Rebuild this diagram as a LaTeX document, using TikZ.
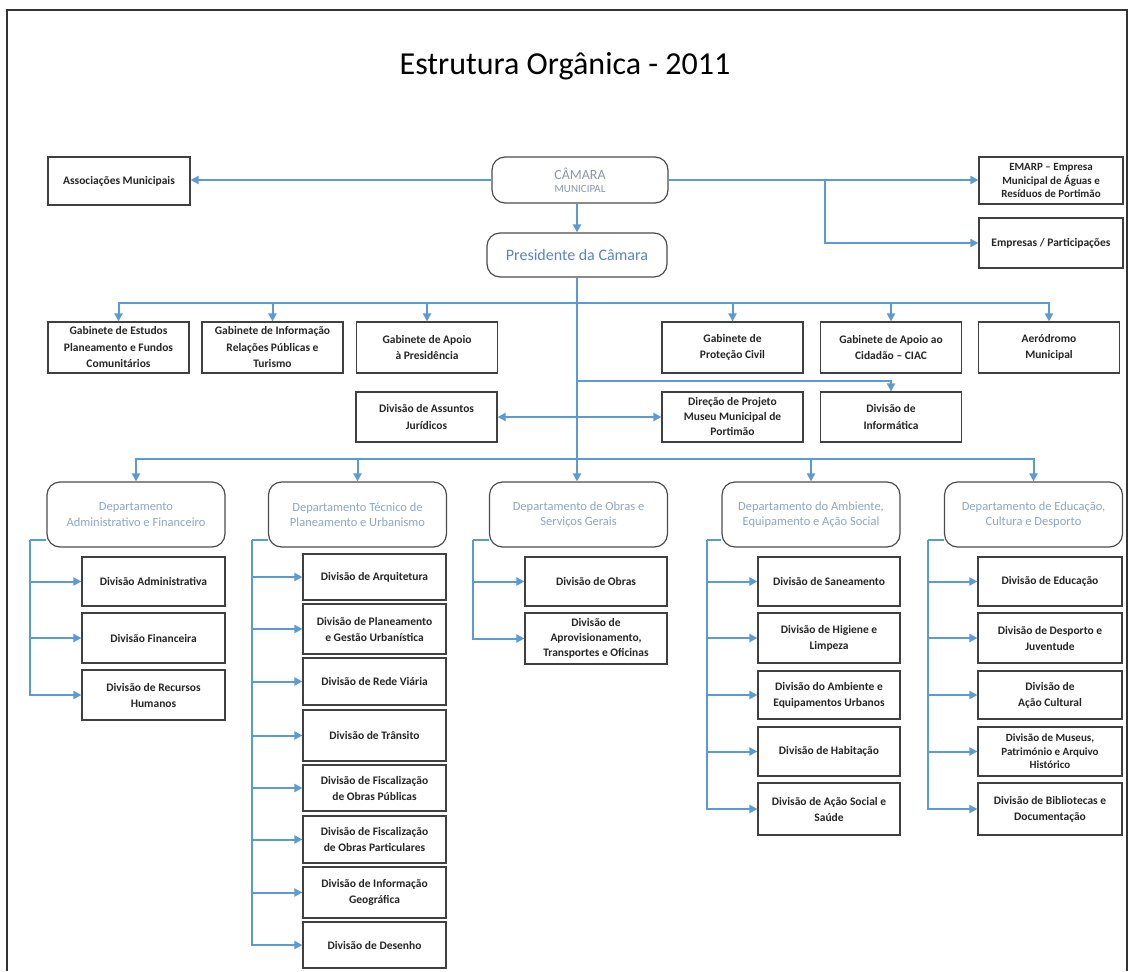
\documentclass[tikz,border=0pt]{standalone}
\usepackage{fontspec}
\setmainfont{Carlito}
\usepackage{tikz}
\usetikzlibrary{arrows.meta,positioning}
\definecolor{linkblue}{HTML}{5B9BD5}
\definecolor{depttext}{HTML}{8EA6C4}
\definecolor{prestext}{HTML}{5A86C0}
\definecolor{camtext}{HTML}{8A98AC}

\begin{document}
\begin{tikzpicture}
[x=1pt, y=-1pt,
unit/.style={rectangle, draw=black!75, line width=1.2pt, fill=white, align=center, inner sep=1pt, font=\fontsize{11.5}{16}\selectfont\bfseries, text=black!85},
head/.style={rectangle, rounded corners=13pt, draw=black!70, line width=1.2pt, fill=white, align=center, inner sep=1pt, font=\fontsize{12.5}{15.5}\selectfont, text=depttext, minimum width=178pt, minimum height=65pt},
gab/.style={unit, minimum width=141pt, minimum height=51pt, font=\fontsize{11.5}{16.5}\selectfont\bfseries},
div/.style={unit, minimum width=143pt},
link/.style={draw=linkblue, line width=2pt},
arr/.style={link, -{Triangle[length=8pt,width=8pt]}},
hv/.style={to path={-| (\tikztotarget)}},
vh/.style={to path={|- (\tikztotarget)}}
]
\useasboundingbox (0,0) rectangle (1131,971);
%Frame
\draw[black!80, line width=1.3pt] (7,971) -- (7,10) -- (1127,10) -- (1127,971);
\node[font=\fontsize{32}{36}\selectfont] (title) at (565,66) {Estrutura Orgânica - 2011};

%Nodes
\node[unit, minimum width=142pt, minimum height=48pt] (assoc) at (119,181) {Associações Municipais};
\node[head, minimum width=176pt, minimum height=46pt, text=camtext, font=\fontsize{14}{14}\selectfont] (camara) at (580,180) {CÂMARA\\[-1pt]{\fontsize{11}{11}\selectfont MUNICIPAL}};
\node[head, minimum width=180pt, minimum height=44pt, text=prestext, font=\fontsize{16}{18}\selectfont] (pres) at (577,255) {Presidente da Câmara};
\node[unit, minimum width=144pt, minimum height=47pt, font=\fontsize{11}{13.5}\selectfont\bfseries] (emarp) at (1051,180.5) {EMARP – Empresa\\Municipal de Águas e\\Resíduos de Portimão};
\node[unit, minimum width=144pt, minimum height=50pt] (empresas) at (1051,243) {Empresas / Participações};

\node[gab] (gestudos) at (118.5,347.5) {Gabinete de Estudos\\Planeamento e Fundos\\Comunitários};
\node[gab] (ginfo)    at (272.5,347.5) {Gabinete de Informação\\Relações Públicas e\\Turismo};
\node[gab] (gapoio)   at (427,347.5)   {Gabinete de Apoio\\à Presidência};
\node[gab] (gprot)    at (732.5,347.5) {Gabinete de\\Proteção Civil};
\node[gab] (gcid)     at (891,347.5)   {Gabinete de Apoio ao\\Cidadão – CIAC};
\node[gab] (aero)     at (1049,347.5)  {Aeródromo\\Municipal};

\node[gab, minimum height=50pt] (jur)    at (426.5,417) {Divisão de Assuntos\\Jurídicos};
\node[gab, minimum height=50pt, font=\fontsize{11.5}{15}\selectfont\bfseries] (museu)  at (732.5,417) {Direção de Projeto\\Museu Municipal de\\Portimão};
\node[gab, minimum height=50pt] (inform) at (891,417)   {Divisão de\\Informática};

\node[head] (dadm)   at (136,514.5)   {Departamento\\Administrativo e Financeiro};
\node[head] (durb)   at (357.5,514.5) {Departamento Técnico de\\Planeamento e Urbanismo};
\node[head] (dobras) at (578.5,514.5) {Departamento de Obras e\\Serviços Gerais};
\node[head] (damb)   at (811,514.5)   {Departamento do Ambiente,\\Equipamento e Ação Social};
\node[head] (dedu)   at (1033.5,514.5) {Departamento de Educação,\\Cultura e Desporto};

\node[div, minimum height=49pt] (dvadm) at (153.5,581.5) {Divisão Administrativa};
\node[div, minimum height=50pt] (dvfin) at (153.5,638)   {Divisão Financeira};
\node[div, minimum height=50pt] (dvrh)  at (153.5,695)   {Divisão de Recursos\\Humanos};

\node[div, minimum height=46pt] (dvarq)  at (374.5,577)   {Divisão de Arquitetura};
\node[div, minimum height=50pt] (dvplan) at (374.5,629)   {Divisão de Planeamento\\e Gestão Urbanística};
\node[div, minimum height=47pt] (dvrede) at (374.5,681.5) {Divisão de Rede Viária};
\node[div, minimum height=51pt] (dvtran) at (374.5,735.5) {Divisão de Trânsito};
\node[div, minimum height=46pt] (dvfpub) at (374.5,788)   {Divisão de Fiscalização\\de Obras Públicas};
\node[div, minimum height=47pt] (dvfpar) at (374.5,839.5) {Divisão de Fiscalização\\de Obras Particulares};
\node[div, minimum height=51pt] (dvgeo)  at (374.5,892.5) {Divisão de Informação\\Geográfica};
\node[div, minimum height=46pt] (dvdes)  at (374.5,945)   {Divisão de Desenho};

\node[div, minimum width=142pt, minimum height=49pt] (dvobr)   at (596,581.5) {Divisão de Obras};
\node[div, minimum width=142pt, minimum height=51pt, font=\fontsize{11.5}{15}\selectfont\bfseries] (dvaprov) at (596,638.5) {Divisão de\\Aprovisionamento,\\Transportes e Oficinas};

\node[div, minimum width=142pt, minimum height=49pt] (dvsan) at (829,581.5) {Divisão de Saneamento};
\node[div, minimum width=142pt, minimum height=50pt] (dvhig) at (829,638)   {Divisão de Higiene e\\Limpeza};
\node[div, minimum width=142pt, minimum height=48pt] (dvamb) at (829,695)   {Divisão do Ambiente e\\Equipamentos Urbanos};
\node[div, minimum width=142pt, minimum height=49pt] (dvhab) at (829,751.5) {Divisão de Habitação};
\node[div, minimum width=142pt, minimum height=52pt] (dvsoc) at (829,809)   {Divisão de Ação Social e\\Saúde};

\node[div, minimum width=144pt, minimum height=49pt] (dvedu)  at (1050,581.5) {Divisão de Educação};
\node[div, minimum width=144pt, minimum height=50pt] (dvdesp) at (1050,638)   {Divisão de Desporto e\\Juventude};
\node[div, minimum width=144pt, minimum height=48pt] (dvcult) at (1050,695)   {Divisão de\\Ação Cultural};
\node[div, minimum width=144pt, minimum height=49pt, font=\fontsize{11}{13.5}\selectfont\bfseries] (dvmus) at (1050,751.5) {Divisão de Museus,\\Património e Arquivo\\Histórico};
\node[div, minimum width=144pt, minimum height=52pt] (dvbib)  at (1050,809)   {Divisão de Bibliotecas e\\Documentação};

\coordinate (gbus) at (577,303);
\coordinate (ibus) at (577,381);
\coordinate (jbus) at (577,417);
\coordinate (dbus) at (577,459);
\coordinate (ebr)  at (825,180);
\coordinate (sadm) at (30,540);
\coordinate (surb) at (252,540);
\coordinate (sobr) at (473,540);
\coordinate (samb) at (707,540);
\coordinate (sedu) at (928,540);

%Lines
\draw[link] (pres.south) -- (dbus);
\draw[link] (dadm.west |- sadm) -- (sadm);
\draw[link] (durb.west |- surb) -- (surb);
\draw[link] (dobras.west |- sobr) -- (sobr);
\draw[link] (damb.west |- samb) -- (samb);
\draw[link] (dedu.west |- sedu) -- (sedu);
\path[every edge/.style=arr]
(pres.north |- camara.south) edge (pres.north)
(camara.west) edge (camara.west -| assoc.east)
(camara.east) edge (camara.east -| emarp.west)
(ebr) edge[vh] (empresas.west)
(gbus) edge[hv] (gestudos.north)
(gbus) edge[hv] (ginfo.north)
(gbus) edge[hv] (gapoio.north)
(gbus) edge[hv] (gprot.north)
(gbus) edge[hv] (gcid.north)
(gbus) edge[hv] (aero.north)
(ibus) edge[hv] (inform.north)
(jbus) edge (jur.east)
(jbus) edge (museu.west)
(dbus) edge[hv] (dadm.north)
(dbus) edge[hv] (durb.north)
(dbus) edge (dbus |- dobras.north)
(dbus) edge[hv] (damb.north)
(dbus) edge[hv] (dedu.north)
(sadm) edge[vh] (dvadm.west)
(sadm) edge[vh] (dvfin.west)
(sadm) edge[vh] (dvrh.west)
(surb) edge[vh] (dvarq.west)
(surb) edge[vh] (dvplan.west)
(surb) edge[vh] (dvrede.west)
(surb) edge[vh] (dvtran.west)
(surb) edge[vh] (dvfpub.west)
(surb) edge[vh] (dvfpar.west)
(surb) edge[vh] (dvgeo.west)
(surb) edge[vh] (dvdes.west)
(sobr) edge[vh] (dvobr.west)
(sobr) edge[vh] (dvaprov.west)
(samb) edge[vh] (dvsan.west)
(samb) edge[vh] (dvhig.west)
(samb) edge[vh] (dvamb.west)
(samb) edge[vh] (dvhab.west)
(samb) edge[vh] (dvsoc.west)
(sedu) edge[vh] (dvedu.west)
(sedu) edge[vh] (dvdesp.west)
(sedu) edge[vh] (dvcult.west)
(sedu) edge[vh] (dvmus.west)
(sedu) edge[vh] (dvbib.west);

\end{tikzpicture}
\end{document}
